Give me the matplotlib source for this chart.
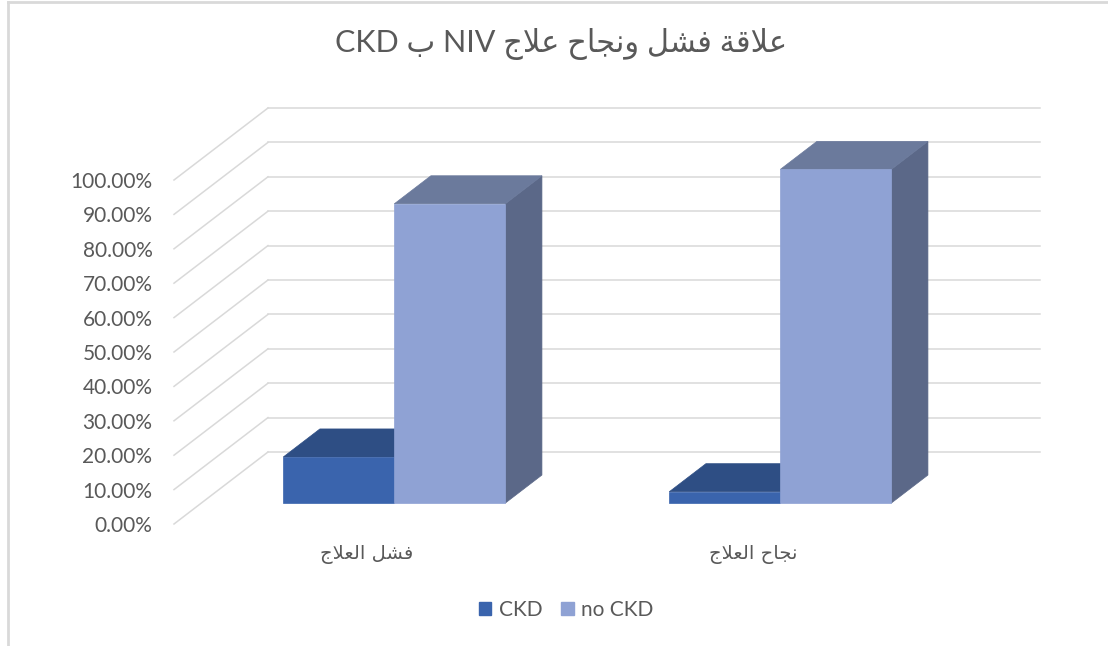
import matplotlib
matplotlib.use('Agg')
import matplotlib.pyplot as plt
from matplotlib.patches import Polygon, Patch
from matplotlib.lines import Line2D
from matplotlib.ticker import PercentFormatter

# data
title = 'علاقة فشل ونجاح علاج NIV ب CKD'
categories = ['فشل العلاج', 'نجاح العلاج']
series_names = ['CKD', 'no CKD']
ckd = [0.134, 0.033]
no_ckd = [0.870, 0.970]
yticks = [0.0, 0.1, 0.2, 0.3, 0.4, 0.5, 0.6, 0.7, 0.8, 0.9, 1.0]

# colours: front, top, side
face_colors = [('#3A64AD', '#2E4E84', '#2A4878'),
               ('#8FA2D4', '#6B7A9C', '#5B6888')]
grid_color = '#D9D9D9'
text_color = '#595959'

plt.rcParams['font.family'] = ['Lato', 'DejaVu Sans']

# simple arabic shaping (matplotlib has no shaping / bidi)
ARABIC_FORMS = {            # isolated, final, initial, medial
    'ا': (0xFE8D, 0xFE8E, None, None),
    'ب': (0xFE8F, 0xFE90, 0xFE91, 0xFE92),
    'ة': (0xFE93, 0xFE94, None, None),
    'ج': (0xFE9D, 0xFE9E, 0xFE9F, 0xFEA0),
    'ح': (0xFEA1, 0xFEA2, 0xFEA3, 0xFEA4),
    'ش': (0xFEB5, 0xFEB6, 0xFEB7, 0xFEB8),
    'ع': (0xFEC9, 0xFECA, 0xFECB, 0xFECC),
    'ف': (0xFED1, 0xFED2, 0xFED3, 0xFED4),
    'ق': (0xFED5, 0xFED6, 0xFED7, 0xFED8),
    'ل': (0xFEDD, 0xFEDE, 0xFEDF, 0xFEE0),
    'ن': (0xFEE5, 0xFEE6, 0xFEE7, 0xFEE8),
    'و': (0xFEED, 0xFEEE, None, None),
}
LAM_ALEF = (0xFEFB, 0xFEFC)


def shape_word(word):
    out = []
    n = len(word)
    i = 0
    while i < n:
        c = word[i]
        if c not in ARABIC_FORMS:
            out.append(c)
            i += 1
            continue
        prev = word[i - 1] if i > 0 else None
        joins_prev = prev in ARABIC_FORMS and ARABIC_FORMS[prev][2] is not None
        if c == 'ل' and i + 1 < n and word[i + 1] == 'ا':
            out.append(chr(LAM_ALEF[1 if joins_prev else 0]))
            i += 2
            continue
        nxt = word[i + 1] if i + 1 < n else None
        forms = ARABIC_FORMS[c]
        joins_next = nxt in ARABIC_FORMS and forms[2] is not None
        if joins_prev and joins_next:
            g = forms[3]
        elif joins_prev:
            g = forms[1]
        elif joins_next:
            g = forms[2]
        else:
            g = forms[0]
        out.append(chr(g))
        i += 1
    return ''.join(out)


def rtl(text):
    words = []
    for w in text.split(' '):
        if any(ch in ARABIC_FORMS for ch in w):
            w = shape_word(w)[::-1]
        words.append(w)
    return ' '.join(words[::-1])


fig = plt.figure(figsize=(11.08, 6.46), dpi=100)
W, H = 1108, 646

# front floor: x 174..946 px, y 524 (0%) .. 180 (100%)
ax = fig.add_axes([174 / W, (H - 524) / H, 772 / W, 344 / H])
ax.set_xlim(0, 2)
ax.set_ylim(0, 1)
ax.patch.set_visible(False)
for s in ax.spines.values():
    s.set_visible(False)

DX = 94 / 386      # depth offset in category units
DY = 72 / 344      # depth offset in value units
D0, D1 = 0.29, 0.68
BAR_W = 0.2876

# walls: diagonal side-wall lines + back-wall lines
for v in yticks:
    ax.plot([0, DX], [v, v + DY], color=grid_color, lw=1.1, clip_on=False, zorder=1)
    ax.plot([DX, len(categories) + DX], [v + DY, v + DY], color=grid_color,
            lw=1.1, clip_on=False, zorder=1)

# 3d columns
bdx = (D1 - D0) * DX
bdy = (D1 - D0) * DY
for i in range(len(categories)):
    for j, vals in enumerate([ckd, no_ckd]):
        front, top, side = face_colors[j]
        x0 = i + 0.5 - BAR_W + j * BAR_W + D0 * DX
        x1 = x0 + BAR_W
        y0 = D0 * DY
        y1 = y0 + vals[i]
        z = 2 + j
        ax.add_patch(Polygon([(x1, y0), (x1 + bdx, y0 + bdy), (x1 + bdx, y1 + bdy), (x1, y1)],
                             closed=True, fc=side, ec=side, lw=0.5, zorder=z, clip_on=False))
        ax.add_patch(Polygon([(x0, y1), (x1, y1), (x1 + bdx, y1 + bdy), (x0 + bdx, y1 + bdy)],
                             closed=True, fc=top, ec=top, lw=0.5, zorder=z, clip_on=False))
        ax.add_patch(Polygon([(x0, y0), (x1, y0), (x1, y1), (x0, y1)],
                             closed=True, fc=front, ec=front, lw=0.5, zorder=z, clip_on=False))

# axis labels
ax.set_xticks([])
ax.set_yticks(yticks)
ax.yaxis.set_major_formatter(PercentFormatter(1.0, decimals=2))
ax.tick_params(axis='y', length=0, pad=15.5, labelsize=15, labelcolor=text_color)

for i, cat in enumerate(categories):
    ax.text(i + 0.5, -30 / 344, rtl(cat), ha='center', va='center',
            fontsize=14, color=text_color, family=['DejaVu Sans'], clip_on=False)

fig.text(561 / W, 1 - 44 / H, rtl(title), ha='center', va='center',
         fontsize=22, color=text_color, family=['Lato', 'DejaVu Sans'])

handles = [Patch(facecolor=face_colors[k][0], edgecolor=face_colors[k][0], label=series_names[k])
           for k in range(len(series_names))]
fig.legend(handles=handles, loc='center', bbox_to_anchor=(566 / W, 1 - 610 / H), ncol=2,
           frameon=False, fontsize=15, handlelength=0.6, handleheight=0.6,
           handletextpad=0.35, columnspacing=0.9, labelcolor=text_color)

# chart border (left and top edges visible)
fig.add_artist(Line2D([7.5 / W, 7.5 / W], [0, 1 - 2 / H], color='#D9D9D9', lw=2))
fig.add_artist(Line2D([7.5 / W, 1], [1 - 2 / H, 1 - 2 / H], color='#D9D9D9', lw=2))

fig.savefig('out.png', dpi=100)
